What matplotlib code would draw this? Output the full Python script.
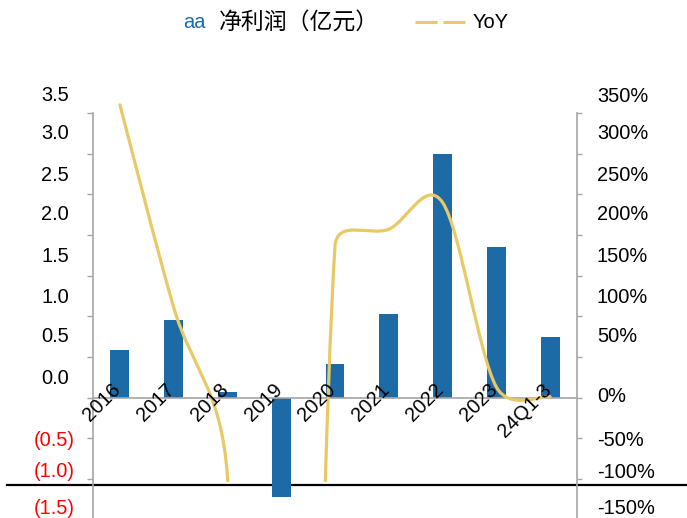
import numpy as np
import matplotlib
matplotlib.use('Agg')
import matplotlib.pyplot as plt
from matplotlib.path import Path
from matplotlib.patches import PathPatch, Rectangle
from matplotlib.lines import Line2D
from matplotlib.transforms import ScaledTranslation

plt.rcParams['font.family'] = ['Liberation Sans', 'DejaVu Sans']

# %% data
periods = ['2016', '2017', '2018', '2019', '2020', '2021', '2022', '2023', '24Q1-3']
profit = [0.58, 0.95, 0.07, -1.22, 0.41, 1.03, 2.99, 1.85, 0.74]   # 亿元
yoy = [360, 111, -97, -1800, 186, 207, 240, 13, 1]                  # %

left_ticks = [-1.5, -1.0, -0.5, 0.0, 0.5, 1.0, 1.5, 2.0, 2.5, 3.0, 3.5]
left_labels = ['(1.5)', '(1.0)', '(0.5)', '0.0', '0.5', '1.0', '1.5', '2.0', '2.5', '3.0', '3.5']
right_ticks = [-150, -100, -50, 0, 50, 100, 150, 200, 250, 300, 350]
right_labels = ['-150%', '-100%', '-50%', '0%', '50%', '100%', '150%', '200%', '250%', '300%', '350%']

# label shifts (px, up) to mimic the source layout
left_shift = [13, 9, 0, 21, 22, 21, 21, 22, 21, 22, 19]
right_shift = [13, 8, 0, 3, 22, 21, 21, 22, 21, 22, 19]

BLUE = '#1C6AA6'
GOLD = '#E8C965'
GRAY = '#A6A6A6'

# %% figure
W, H = 687, 518
fig = plt.figure(figsize=(W / 100, H / 100), dpi=100)
px = lambda v: v / 100.0

ax = fig.add_axes([93 / W, (H - 519.5) / H, (577 - 93) / W, (519.5 - 113) / H])
ax.set_facecolor('none')
ax2 = ax.twinx()

x = np.arange(len(periods))
ax.bar(x, profit, width=0.35, color=BLUE, zorder=2)
ax.set_xlim(-0.5, len(periods) - 0.5)
ax.set_ylim(-1.5, 3.5)
ax2.set_ylim(-150, 350)

for s in ['top', 'right']:
    ax.spines[s].set_visible(False)
for s in ['top', 'left', 'bottom']:
    ax2.spines[s].set_visible(False)
ax.spines['bottom'].set_position(('data', 0))
for sp in [ax.spines['left'], ax.spines['bottom'], ax2.spines['right']]:
    sp.set_color(GRAY)
    sp.set_linewidth(1.2)

ax.set_xticks([])
ax.set_yticks(left_ticks)
ax.set_yticklabels(left_labels)
ax.tick_params(axis='y', length=4.3, width=1.0, color=GRAY, pad=8.6, labelsize=14.4)
ax2.set_yticks(right_ticks)
ax2.set_yticklabels(right_labels)
ax2.tick_params(axis='y', length=3.6, width=1.0, color=GRAY, pad=10.8, labelsize=14.4)

for v, lab, sh in zip(left_ticks, ax.get_yticklabels(), left_shift):
    dx = 0 if v < 0 else -6
    lab.set_transform(lab.get_transform() + ScaledTranslation(px(dx), px(sh), fig.dpi_scale_trans))
    lab.set_color('#FF0000' if v < 0 else 'black')
for lab, sh in zip(ax2.get_yticklabels(), right_shift):
    lab.set_transform(lab.get_transform() + ScaledTranslation(0, px(sh), fig.dpi_scale_trans))

# %% smoothed YoY line (Excel-style bezier through the points)
pts = ax2.transData.transform(np.column_stack([x, yoy]))
n = len(pts)
verts = [pts[0]]
codes = [Path.MOVETO]
for i in range(n - 1):
    p0, p1, p2, p3 = pts[max(i - 1, 0)], pts[i], pts[i + 1], pts[min(i + 2, n - 1)]
    d12 = np.hypot(*(p2 - p1))
    d02 = np.hypot(*(p2 - p0))
    d13 = np.hypot(*(p3 - p1))
    # tangent from neighbours, length capped at half the segment
    f1 = 1 / 6 if d02 / 6 < d12 / 2 else d12 / (2 * d02)
    f2 = 1 / 6 if d13 / 6 < d12 / 2 else d12 / (2 * d13)
    c1 = p1 + (p2 - p0) * f1
    c2 = p2 - (p3 - p1) * f2
    verts += [c1, c2, p2]
    codes += [Path.CURVE4] * 3
verts = ax2.transData.inverted().transform(np.array(verts))
line = PathPatch(Path(verts, codes), fill=False, edgecolor=GOLD, lw=2.3,
                 transform=ax2.transData, zorder=3, capstyle='round')
ax2.add_patch(line)
clip = Rectangle((-0.5, -104), len(periods), 600, transform=ax2.transData)
line.set_clip_path(clip)

# category labels, rotated, sitting on the zero line
for i, lab in enumerate(periods):
    ax2.text(i, 0, lab, rotation=45, rotation_mode='anchor', ha='right', va='center',
             fontsize=14.4, zorder=5,
             transform=ax2.transData + ScaledTranslation(px(-2), px(11), fig.dpi_scale_trans))

# %% legend
ly = 1 - 22 / H
fig.text(183 / W, ly, 'aa', color=BLUE, fontsize=14.4, va='center', ha='left')
fig.text(219 / W, ly, '净利润（亿元）', fontsize=16.5, va='center', ha='left',
         family=['Noto Sans CJK SC', 'DejaVu Sans'])
fig.add_artist(Line2D([415 / W, 437 / W, np.nan, 443 / W, 465 / W], [ly] * 5,
                      color=GOLD, lw=2.2, solid_capstyle='butt', transform=fig.transFigure))
fig.text(473 / W, ly, 'YoY', fontsize=14.4, va='center', ha='left')

# stray page rule across the bottom
fig.add_artist(Line2D([7 / W, 1], [(H - 485) / H] * 2, color='black', lw=1.6,
                      transform=fig.transFigure, zorder=-1))

fig.savefig('out.png', dpi=100)
